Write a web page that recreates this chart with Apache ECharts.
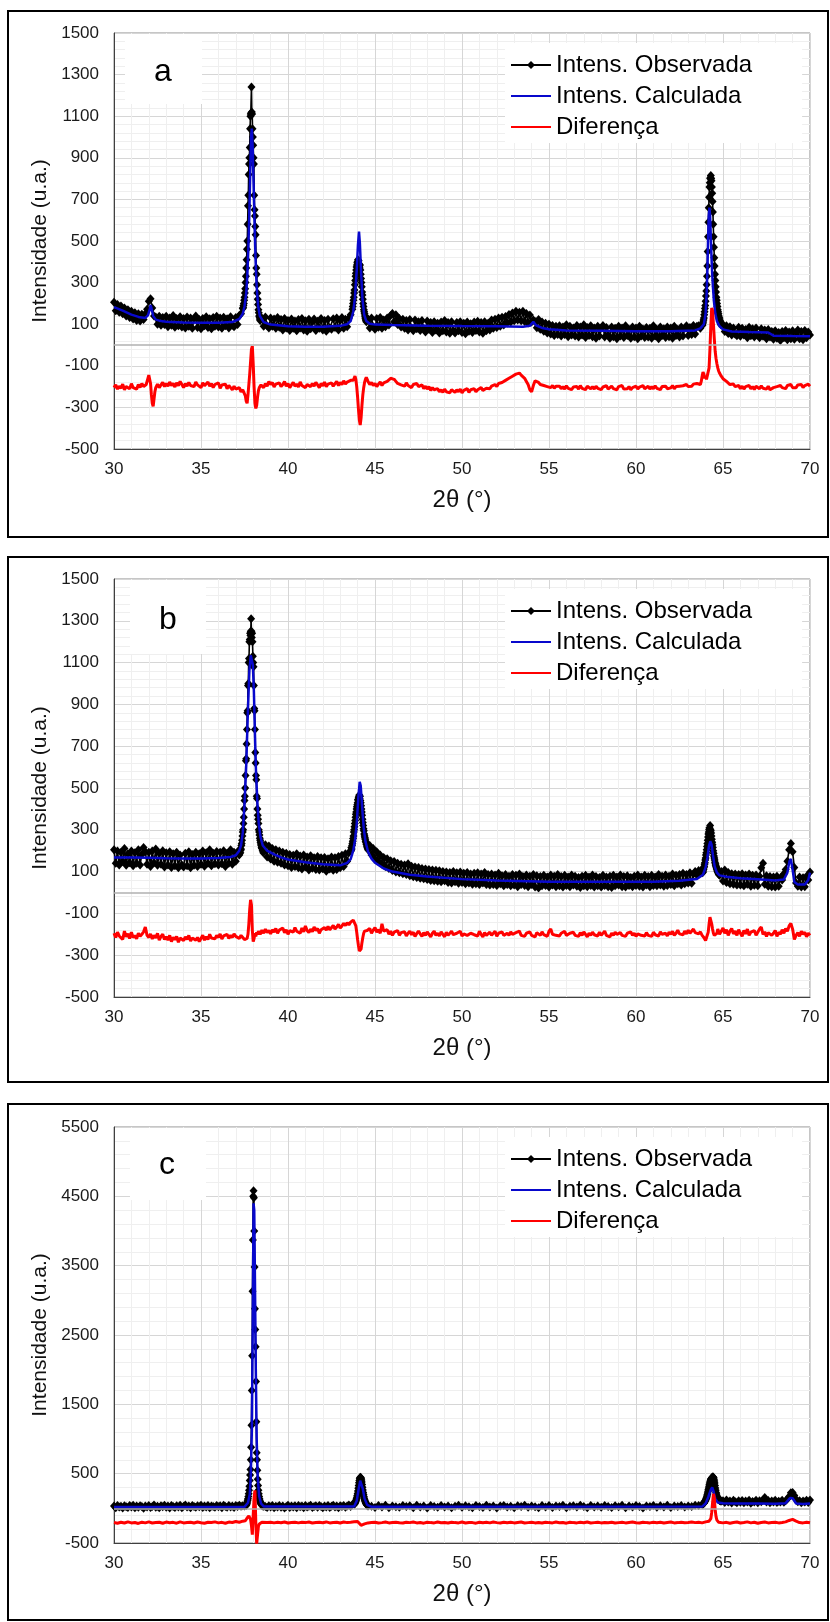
<!DOCTYPE html>
<html>
<head>
<meta charset="utf-8">
<script src="https://cdn.jsdelivr.net/npm/echarts@6/dist/echarts.min.js"></script>
<style>
  html, body { margin: 0; padding: 0; background: #fff; }
  #chart { width: 830px; height: 1622px; }
</style>
</head>
<body>
<div id="chart"></div>
<script>
// ── Legend names / panel letters ──
const NAMES = ['Intens. Observada', 'Intens. Calculada', 'Diferença'];
const LETTERS = ['a', 'b', 'c'];
const Y_RANGES = [[-500, 1500, 200], [-500, 1500, 200], [-500, 5500, 1000]];

// Observed data is stored as segments: [start 2θ, step, intensities]
// background every 0.1°, peak windows every 0.02°

// ── Panel a: observed ──
const obsA_bg1 = [205,165,195,158,188,150,178,140,170,132,162,125,155,118,150,115,148,122,150,172,210,222,178,140,135,100,138,95,132,98,138,88,130,95,142,85,128,92,136,86,128,82,135,90,130,80,125,140,84,122,78,128,92,136,84,126,78,132,90,138,86,130,80,134,92,126,82,136,95,88,132,98,142,150,175];
const obsA_pk1 = [180,190,200,215,230,250,270,300,330,370,410,460,500,580,670,720,820,870,900,950,1040,1100,1110,1115,1240,1120,1110,1040,1000,960,900,870,720,650,620,570,530,430,370,340,290,250,220,195,170,155,140,135,125,118];
const obsA_bg2 = [130,90,135,92,82,130,90,125,80,132,85,122,72,128,82,118,70,125,80,115,68,122,82,128,72,116,66,124,78,112,125,70,114,80,128,72,118,66,124,82,76,126,84,130,72,118,132,80,124,88,130,145,172];
const obsA_pk2 = [185,200,215,230,250,265,290,310,330,345,360,375,385,395,400,410,395,405,390,380,370,385,360,340,320,300,280,255,240,220,200,185,170,160,150,140,130,125,118,112];
const obsA_bg3 = [125,82,130,88,76,128,85,132,80,120,88,130,96,142,152,112,145,98,128,86,124,80,118,72,122,82,68,120,78,112,70,118,78,62,115,76,108,60,112,72,105,58,110,68,118,62,108,56,112,70,58,108,68,112,60,104,54,110,66,102,60,110,70,114,62,108,56,112,68,104,72,120,80,124,84,130,90,134,96,137,106,147,110,154,116,162,120,157,116,162,113,152,106,144,110,120,113,83,122,76,110,66,104,58,100,53,94,46,90,50,92,43,87,50,97,40,90,48,82,43,94,38,87,48,97,36,84,46,92,40,82,33,90,43,80,94,38,84,48,33,87,40,80,30,90,43,82,36,92,46,74,33,87,40,82,30,90,43,77,36,84,38,80,33,92,43,74,30,87,46,78,36,87,40,82,33,90,46,74,38,87,43,80,92,46,84,50,94,53,90,92,80,100];
const obsA_pk3 = [95,105,110,120,130,145,160,175,190,210,235,260,290,330,380,450,520,590,660,710,760,780,800,805,815,800,790,760,730,690,640,580,520,470,420,380,340,310,280,255,230,215,200,185,170,160,150,140,132,125,118,112,105,100,96];
const obsA_bg4 = [98,65,92,55,88,48,82,52,45,85,42,80,48,75,35,85,45,78,38,82,48,35,78,42,72,30,75,38,65,28,68,32,60,22,65,35,70,25,62,30,68,28,60,72,30,65,25,70,35,62,48];
const obsA = [[30.0,0.1,obsA_bg1],[37.42,0.02,obsA_pk1],[38.5,0.1,obsA_bg2],[43.72,0.02,obsA_pk2],[44.6,0.1,obsA_bg3],[63.82,0.02,obsA_pk3],[65.0,0.1,obsA_bg4]];

// ── Panel a: calculated [2θ, I] ──
const calcA = [[30,182],[30.5,165],[31,146],[31.5,133],[31.8,130],[31.95,142],[32.05,170],[32.1,192],[32.15,178],[32.25,140],[32.4,122],[32.7,115],[33,112],[34,108],[35,107],[36,107],[36.8,110],[37.2,125],[37.4,150],[37.5,185],[37.6,250],[37.66,330],[37.72,460],[37.78,640],[37.84,870],[37.88,1000],[37.92,1040],[37.97,950],[38.02,780],[38.08,580],[38.14,400],[38.2,280],[38.28,190],[38.38,140],[38.6,110],[39,98],[40,90],[41,88],[42,88],[43,92],[43.4,100],[43.6,115],[43.75,160],[43.85,230],[43.95,360],[44.02,480],[44.08,545],[44.13,490],[44.2,350],[44.28,220],[44.38,145],[44.5,115],[44.7,102],[45,98],[46,96],[48,93],[50,91],[52,90],[53.5,88],[53.9,92],[54.1,112],[54.25,95],[54.6,82],[55,76],[56,70],[58,68],[60,66],[62,66],[63.4,70],[63.7,80],[63.9,100],[64.0,150],[64.06,250],[64.1,350],[64.14,500],[64.18,620],[64.22,660],[64.26,620],[64.3,520],[64.34,420],[64.38,340],[64.42,280],[64.48,210],[64.56,150],[64.65,115],[64.8,90],[65,75],[65.5,65],[66.5,62],[67.6,60],[67.9,45],[69,43],[70,42]];

// ── Panel a: difference (offset -200) ──
const diffA_bg1 = [-205,-192,-212,-198,-208,-188,-215,-200,-193,-210,-186,-205,-196,-212,-190,-204,-185,-200,-192];
const diffA_pk0 = [-190,-175,-160,-145,-140,-185,-240,-280,-295,-260,-225,-205,-200];
const diffA_bg2 = [-188,-205,-192,-180,-200,-185,-198,-178,-195,-185,-202,-182,-196,-175,-190,-205,-185,-198,-180,-195,-188,-200,-178,-192,-185,-205,-182,-196,-190,-178,-198,-185,-205,-190,-195,-182,-208,-192,-200,-188,-210,-195,-205,-215,-198,-212,-220,-205,-225,-215];
const diffA_pk1 = [-225,-230,-245,-270,-280,-240,-190,-140,-80,-20,-5,-90,-200,-280,-305,-290,-250,-220,-205,-198,-192];
const diffA_bg3 = [-192,-205,-185,-198,-175,-190,-180,-202,-188,-196,-182,-200,-190,-176,-198,-186,-205,-192,-180,-198,-188,-202,-178,-195,-186,-205,-190,-182,-200,-185,-198,-180,-192,-205,-185,-196,-178,-200,-188,-194,-182,-198,-186,-175,-195,-180,-190,-172,-188,-178,-185,-170,-178];
const diffA_pk2 = [-170,-160,-150,-165,-200,-250,-310,-360,-385,-350,-290,-240,-205,-180,-165,-155,-165];
const diffA_bg4 = [-175,-190,-180,-195,-185,-200,-188,-178,-195,-182,-190,-175,-168,-160,-152,-165,-175,-185,-178,-192,-185,-198,-182,-195,-188,-205,-190,-198,-185,-200,-205,-192,-210,-198,-212,-200,-218,-205,-215,-222,-210,-225,-215,-228,-212,-225,-218,-230,-215,-222,-228,-215,-225,-212,-230,-218,-225,-210,-228,-215,-222,-210,-225,-215,-220,-205,-218,-212,-208,-200,-210,-198,-205,-190,-200,-185,-192,-180,-185,-170,-175,-160,-165,-150,-155,-140,-148,-135,-145,-150,-160,-175,-190,-215,-225,-195,-172,-165,-180,-190,-185,-195,-188,-200,-192,-205,-195,-208,-198,-205,-198,-210,-200,-212,-196,-208,-200,-215,-202,-210,-200,-212,-195,-208,-202,-215,-198,-206,-210,-200,-212,-198,-208,-200,-215,-202,-210,-196,-212,-205,-198,-210,-202,-215,-200,-208,-195,-212,-204,-210,-200,-215,-205,-210,-198,-212,-202,-208,-195,-210,-205,-198,-212,-200,-210,-196,-208,-202,-215,-200,-208,-198,-210,-202,-206,-195,-210,-200,-205,-198,-205,-196,-202,-190,-200,-195,-198,-188,-196,-185,-180,-190];
const diffA_pk3 = [-175,-150,-130,-140,-160,-150,-165,-172,-160,-110,-20,90,178,165,100,30,-30,-65,-90,-110,-125,-135,-142,-150,-156,-162];
const diffA_bg5 = [-168,-175,-182,-190,-196,-188,-200,-205,-195,-210,-198,-212,-200,-206,-195,-210,-200,-214,-198,-205,-210,-196,-208,-200,-212,-198,-215,-220,-205,-212,-200,-208,-195,-205,-198,-210,-195,-202,-190,-205,-196,-205,-192,-200,-190,-205,-195,-200,-188,-198];
const diffA = [[30.0,0.1,diffA_bg1],[31.85,0.05,diffA_pk0],[32.5,0.1,diffA_bg2],[37.45,0.05,diffA_pk1],[38.5,0.1,diffA_bg3],[43.75,0.05,diffA_pk2],[44.6,0.1,diffA_bg4],[63.75,0.05,diffA_pk3],[65.1,0.1,diffA_bg5]];

// ── Panel b: observed ──
const obsB_bg1 = [205,140,198,132,192,150,210,130,185,142,198,128,190,140,205,132,182,215,195,135,192,125,198,142,208,130,188,135,200,122,190,132,195,120,185,128,192,118,180,132,122,188,128,195,118,182,130,192,125,186,135,198,126,190,140,205,128,188,138,196,132,192,138,200,125,188,140,205,135,192,150,195,180];
const obsB_pk1 = [185,200,190,210,205,225,235,250,270,290,300,330,360,400,440,460,500,560,630,640,710,780,860,870,990,1000,1100,1120,1200,1210,1240,1230,1250,1310,1250,1220,1240,1200,1130,1100,1080,990,880,870,780,670,620,560,540,460,450,400,370,350,330,300,290,275,260,250,240,232,225,215,210,220,200,205,190,198];
const obsB_bg2 = [228,170,222,160,210,150,205,145,198,140,192,132,188,128,182,120,178,125,185,118,175,112,180,122,170,108,176,116,166,110,172,108,166,114,168,102,162,112,170,106,166,110,172,118,178,125,185,150,190,200];
const obsB_pk2 = [200,215,208,225,235,245,258,270,290,300,315,330,345,360,375,385,400,410,420,430,445,440,455,460,466,450,460,440,430,415,400,385,370,350,335,320,305,295,280,270,262,255,245,240,232,228,220,215,210,205];
const obsB_bg3 = [225,180,210,160,195,148,180,135,168,125,162,115,152,105,148,98,140,94,135,90,132,86,138,80,126,75,122,72,120,68,115,66,112,62,110,58,108,56,106,54,104,52,100,56,98,48,96,46,100,52,94,44,98,48,92,42,96,46,88,40,92,42,95,38,88,46,96,38,86,36,88,38,84,34,92,42,80,32,86,38,78,32,86,36,82,28,88,38,76,34,84,28,78,38,86,26,80,22,76,32,82,34,74,26,84,36,78,28,86,32,76,26,82,34,74,28,84,36,78,30,72,24,78,32,82,28,74,34,84,26,76,32,72,26,82,34,74,28,78,24,82,32,74,36,84,28,76,26,80,34,72,28,78,34,84,30,74,26,82,36,76,28,82,34,74,32,86,36,78,30,84,34,78,38,88,32,82,42,86,36,92,42,86,46,95,44,88,100,84,105,95,110];
const obsB_pk3 = [95,105,98,110,118,125,135,142,155,165,180,190,205,220,235,250,265,280,290,300,310,305,320,300,295,285,270,255,240,228,215,200,188,175,165,155,145,138,130,124,118,112,108,102,98,95,90,88,85,82];
const obsB_bg4 = [100,55,108,48,96,42,90,40,88,36,86,36,90,32,84,40,88,30,82,35,84,32,78,118,140,40,80,30,76,28,74,26,78,30,70,60,90,110,150,205,235,195,120,45,30,74,26,70,28,78,60,98];
const obsB = [[30.0,0.1,obsB_bg1],[37.22,0.02,obsB_pk1],[38.7,0.1,obsB_bg2],[43.62,0.02,obsB_pk2],[44.7,0.1,obsB_bg3],[63.82,0.02,obsB_pk3],[64.9,0.1,obsB_bg4]];

// ── Panel b: calculated ──
const calcB = [[30,168],[31,167],[32,166],[33,164],[34,163],[35,163],[36,165],[36.7,170],[37.0,178],[37.2,200],[37.3,225],[37.4,285],[37.5,420],[37.6,610],[37.7,880],[37.78,1060],[37.86,1135],[37.92,1140],[37.98,1090],[38.04,960],[38.1,760],[38.16,580],[38.24,430],[38.32,330],[38.42,265],[38.55,225],[38.8,200],[39.2,182],[39.6,168],[40,158],[41,145],[42,135],[43,130],[43.4,142],[43.6,160],[43.75,200],[43.85,250],[43.95,330],[44.04,450],[44.12,530],[44.18,510],[44.26,410],[44.35,310],[44.45,245],[44.6,195],[44.8,162],[45,142],[45.5,115],[46,100],[47,85],[48,76],[50,64],[52,57],[55,52],[58,51],[61,52],[62.5,56],[63.5,65],[63.85,85],[64.0,120],[64.1,165],[64.2,225],[64.27,245],[64.34,230],[64.42,180],[64.52,125],[64.65,95],[64.8,82],[65.2,75],[66,68],[67,63],[68,58],[68.5,62],[68.7,95],[68.82,150],[68.9,160],[69.0,110],[69.1,50],[69.3,38],[69.7,38],[69.9,60],[70,95]];

// ── Panel b: difference ──
const diffB_bg1 = [-195,-215,-190,-208,-200,-225,-185,-212,-198,-220,-190,-215,-205,-222,-195,-210,-200,-188,-165,-205,-215,-198,-222,-205,-218,-195,-228,-210,-200,-225,-212,-228,-205,-235,-215,-225,-210,-238,-218,-222,-230,-212,-225,-205,-232,-218,-210,-228,-215,-235,-220,-205,-228,-212,-225,-200,-218,-210,-222,-205,-215,-198,-222,-208,-212,-200,-220,-205,-215,-198,-210,-202,-220,-205,-215,-225,-218];
const diffB_pk1 = [-220,-200,-150,-80,-35,-60,-180,-235,-220,-195,-210,-190,-200];
const diffB_bg2 = [-185,-200,-180,-195,-175,-192,-182,-198,-178,-190,-172,-195,-180,-188,-170,-192,-178,-200,-182,-175,-190,-168,-185,-178,-195,-170,-188,-160,-182,-192,-175,-188,-165,-182,-172,-195,-178,-185,-168,-180,-162,-178,-170,-158,-175,-165,-152,-170,-160,-148,-158,-145,-155,-142];
const diffB_pk2 = [-150,-140,-132,-128,-140,-160,-190,-225,-255,-280,-288,-270,-240,-215,-195,-185,-178,-190,-182];
const diffB_bg3 = [-185,-172,-195,-180,-168,-190,-178,-195,-150,-185,-192,-178,-200,-185,-205,-190,-198,-182,-205,-192,-200,-188,-208,-195,-185,-202,-190,-210,-196,-185,-198,-210,-192,-205,-188,-200,-212,-195,-185,-205,-195,-208,-188,-200,-212,-190,-205,-196,-185,-202,-210,-195,-200,-185,-208,-198,-190,-205,-212,-195,-188,-202,-195,-208,-185,-200,-212,-192,-205,-198,-190,-205,-198,-185,-210,-195,-202,-188,-205,-212,-195,-205,-188,-200,-208,-192,-198,-185,-205,-196,-210,-195,-202,-188,-205,-198,-212,-192,-200,-205,-188,-202,-196,-210,-185,-175,-200,-192,-205,-198,-208,-195,-200,-186,-205,-212,-195,-202,-190,-205,-198,-210,-192,-205,-188,-200,-212,-195,-205,-190,-202,-195,-208,-190,-205,-198,-185,-205,-200,-212,-195,-205,-190,-200,-208,-192,-205,-198,-210,-195,-200,-188,-205,-195,-210,-198,-190,-205,-196,-208,-192,-205,-198,-210,-190,-202,-195,-208,-188,-200,-205,-195,-208,-190,-200,-186,-205,-195,-180,-198,-190,-202,-185,-198,-180,-195,-188,-175,-192,-185,-198,-188,-205,-215];
const diffB_pk3 = [-220,-230,-235,-225,-190,-150,-118,-125,-150,-175,-195,-205,-212,-200,-195];
const diffB_bg4 = [-175,-200,-185,-170,-195,-178,-205,-185,-172,-198,-185,-205,-178,-195,-210,-182,-198,-175,-205,-190,-198,-182,-205,-190,-175,-165,-200,-188,-210,-192,-185,-205,-195,-182,-210,-190,-200,-178,-195,-172,-185,-160,-148,-175,-225,-205,-192,-210,-185,-200,-190,-212,-195,-205];
const diffB = [[30.0,0.1,diffB_bg1],[37.65,0.05,diffB_pk1],[38.3,0.1,diffB_bg2],[43.65,0.05,diffB_pk2],[44.6,0.1,diffB_bg3],[63.95,0.05,diffB_pk3],[64.7,0.1,diffB_bg4]];

// ── Panel c: observed ──
const obsC_bg1 = [35,10,42,18,30,5,38,22,12,40,20,45,8,32,15,38,25,2,35,18,42,12,28,48,15,30,8,38,22,45,15,35,5,40,25,12,38,20,45,10,30,48,18,35,8,42,25,15,38,22,45,12,32,20,40,8,35,25,15,42,22,38,10,45,28,15,40,20,35,12,40,25,45,30,38,35];
const obsC_pk1 = [40,55,70,90,115,140,170,210,260,320,400,480,560,700,880,1200,1700,2200,3130,3870,4500,4580,4480,4000,3480,2880,2580,2330,1830,1250,800,700,550,420,330,260,210,170,140,115,95,80,70,60,52,45,40,38,35,42,30];
const obsC_bg2 = [28,12,38,20,42,8,30,18,40,15,35,5,28,45,12,32,20,38,10,42,22,35,8,40,18,30,45,12,28,38,15,42,25,8,35,20,40,12,30,45,18,32,10,38,25,42,15,35,48,28,55,70];
const obsC_pk2 = [60,70,80,92,105,120,138,160,185,215,250,290,330,370,400,425,440,450,445,430,410,380,345,305,265,230,200,170,145,125,108,95,82,72,62,55,48,42,38,35];
const obsC_bg3 = [30,12,40,20,45,8,35,22,15,42,25,38,10,45,18,32,5,40,28,15,42,20,35,8,30,45,15,38,22,10,40,28,12,45,20,35,5,32,42,18,30,10,38,25,45,15,35,22,8,40,20,42,12,35,28,45,10,30,38,18,45,25,8,40,20,35,15,42,28,12,38,22,45,10,32,18,40,25,5,35,28,42,15,38,20,45,12,32,25,40,18,35,28,45,40,55];
const obsC_pk3 = [60,65,70,75,82,90,98,108,120,132,145,160,178,198,220,245,270,295,320,345,365,385,400,415,425,432,440,445,450,455,448,440,420,395,365,330,295,260,230,205,185,168,155,145,138,130,125,120,116,112,110,108,106,105];
const obsC_bg4 = [110,85,120,90,105,78,115,95,82,110,88,112,80,105,92,118,75,100,90,115,82,108,95,120,155,90,112,80,105,92,115,85,102,92,118,88,110,135,170,225,230,185,130,95,110,80,105,92,115,85,120];
const obsC = [[30.0,0.1,obsC_bg1],[37.6,0.02,obsC_pk1],[38.7,0.1,obsC_bg2],[43.82,0.02,obsC_pk2],[44.8,0.2,obsC_bg3],[63.84,0.02,obsC_pk3],[65.0,0.1,obsC_bg4]];

// ── Panel c: calculated ──
const calcC = [[30,20],[37.5,22],[37.7,80],[37.8,200],[37.86,450],[37.92,1100],[37.97,2500],[38.02,4400],[38.06,4300],[38.1,3300],[38.15,2000],[38.2,1000],[38.26,450],[38.34,180],[38.45,70],[38.6,28],[43.8,25],[43.95,110],[44.05,260],[44.15,400],[44.22,395],[44.3,280],[44.4,140],[44.55,50],[44.8,22],[63.8,25],[64.0,70],[64.15,160],[64.3,270],[64.38,300],[64.45,250],[64.55,140],[64.7,85],[65,72],[66,70],[67,68],[68,66],[68.6,75],[68.85,150],[69.0,145],[69.2,70],[69.6,62],[70,70]];

// ── Panel c: difference ──
const diffC_bg1 = [-205,-215,-200,-212,-195,-210,-205,-218,-200,-210,-196,-212,-205,-200,-215,-198,-208,-202,-214,-196,-210,-205,-200,-212,-198,-208,-215,-200,-205,-195,-210,-202,-215,-198,-205,-190,-200,-185];
const diffC_pk1 = [-190,-175,-180,-160,-140,-120,-110,-130,-160,-250,-380,-100,150,260,-200,-510,-380,-260,-225,-210,-205,-200];
const diffC_bg2 = [-198,-205,-200,-210,-202,-208,-198,-212,-204,-200,-210,-202,-206,-198,-212,-204,-200,-208,-196,-210,-204,-200,-212,-198,-206,-202,-195,-190,-245,-225,-210,-205,-200,-212,-206,-198,-210,-204,-200,-208,-212,-200,-206,-198,-210,-204,-214,-200,-206,-210,-198,-208,-204,-212,-200,-206,-210,-198,-212,-204,-206,-214,-200,-208,-202,-210,-198,-206,-212,-200,-208,-202,-210,-204,-198,-212,-206,-200,-210,-204,-212,-200,-206,-210,-198,-208,-204,-214,-200,-206,-210,-202,-208,-198,-212,-206,-200,-210,-204,-208,-202,-212,-206,-200,-210,-204,-198,-208,-212,-200,-206,-210,-202,-208,-200,-212,-204,-198,-210,-206,-200,-208,-204,-198,-206,-200,-210,-195,-185];
const diffC_pk2 = [-180,-150,-60,80,210,150,-20,-120,-170,-190,-200,-205,-208];
const diffC_bg3 = [-210,-202,-215,-205,-198,-212,-204,-195,-210,-200,-215,-205,-198,-210,-204,-200,-210,-204,-195,-175,-160,-185,-205,-210,-200,-208];
const diffC = [[30.0,0.2,diffC_bg1],[37.45,0.05,diffC_pk1],[38.6,0.2,diffC_bg2],[64.25,0.05,diffC_pk2],[65.0,0.2,diffC_bg3]];

// ── Build [x, y] points from segments ──
function expand(segs) {
  const out = [];
  segs.forEach(([start, step, vals]) => {
    vals.forEach((v, i) => out.push([+(start + i * step).toFixed(2), v]));
  });
  return out.sort((a, b) => a[0] - b[0]);
}

const FONT = "'Liberation Sans', Arial, Helvetica, sans-serif";
const panels = [
  { obs: obsA, calc: calcA, diff: diffA, box: [8, 11, 820, 526], top: 33, height: 416, tag: [125, 77, 70, 163, 72] },
  { obs: obsB, calc: calcB, diff: diffB, box: [8, 557, 820, 525], top: 579, height: 418, tag: [130, 76, 74, 168, 620] },
  { obs: obsC, calc: calcC, diff: diffC, box: [8, 1104, 820, 516], top: 1127, height: 416, tag: [130, 76, 72, 167, 1165] },
];

const grid = [], xAxis = [], yAxis = [], series = [], legend = [], graphic = [];

panels.forEach((p, i) => {
  const [yMin, yMax, yStep] = Y_RANGES[i];
  grid.push({ left: 114, top: p.top, width: 696, height: p.height, show: true,
              borderColor: '#8c8c8c', borderWidth: 1, backgroundColor: 'transparent' });
  xAxis.push({
    type: 'value', gridIndex: i, min: 30, max: 70, interval: 5,
    axisLine: { onZero: false, lineStyle: { color: '#404040', width: 1 } },
    axisTick: { show: false },
    axisLabel: { color: '#1a1a1a', fontSize: 17, fontFamily: FONT, margin: 12 },
    splitLine: { lineStyle: { color: '#d6d6d6', width: 1 } },
    minorTick: { show: false, splitNumber: 5 },
    minorSplitLine: { show: true, lineStyle: { color: '#efefef', width: 1 } },
    name: '2θ (°)', nameLocation: 'middle', nameGap: 39,
    nameTextStyle: { fontSize: 24, color: '#111', fontFamily: FONT },
  });
  yAxis.push({
    type: 'value', gridIndex: i, min: yMin, max: yMax, interval: yStep,
    axisLine: { show: true, lineStyle: { color: '#404040', width: 1 } },
    axisTick: { show: false },
    axisLabel: { color: '#1a1a1a', fontSize: 17, fontFamily: FONT, margin: 15, formatter: v => String(v) },
    splitLine: { lineStyle: { color: '#d6d6d6', width: 1 } },
    minorTick: { show: false, splitNumber: 5 },
    minorSplitLine: { show: true, lineStyle: { color: '#efefef', width: 1 } },
    name: 'Intensidade (u.a.)', nameLocation: 'middle', nameGap: 63,
    nameTextStyle: { fontSize: 21, color: '#111', fontFamily: FONT },
  });

  // zero line (Excel horizontal axis crossing)
  series.push({
    name: 'zero' + i, type: 'line', xAxisIndex: i, yAxisIndex: i, data: [], z: 1,
    markLine: { silent: true, symbol: 'none', label: { show: false }, animation: false,
                lineStyle: { color: '#b0b0b0', width: 1.5, type: 'solid' }, data: [{ yAxis: 0 }] },
  });
  series.push({
    name: NAMES[0], type: 'line', xAxisIndex: i, yAxisIndex: i, data: expand(p.obs),
    symbol: 'diamond', symbolSize: [8, 9], showSymbol: true,
    itemStyle: { color: '#000', borderWidth: 0 }, lineStyle: { color: '#000', width: 1.6 }, z: 2,
  });
  series.push({
    name: NAMES[1], type: 'line', xAxisIndex: i, yAxisIndex: i, data: p.calc, symbol: 'none',
    itemStyle: { color: '#0808cc' }, lineStyle: { color: '#0808cc', width: 2.5 }, z: 3,
  });
  series.push({
    name: NAMES[2], type: 'line', xAxisIndex: i, yAxisIndex: i, data: expand(p.diff), symbol: 'none',
    itemStyle: { color: '#ff0000' }, lineStyle: { color: '#ff0000', width: 3 }, z: 4,
  });

  legend.push({
    data: [NAMES[0], { name: NAMES[1], itemStyle: { opacity: 0 } }, { name: NAMES[2], itemStyle: { opacity: 0 } }],
    orient: 'vertical', left: 505, top: p.top + 10,
    padding: [10, 50, 4, 5], itemGap: 7, itemWidth: 40, itemHeight: 10,
    backgroundColor: '#fff', selectedMode: false,
    textStyle: { fontSize: 24, lineHeight: 24, color: '#000', fontFamily: FONT },
  });

  const [bx, bw, bh, tx, ty] = p.tag;
  graphic.push({ type: 'rect', silent: true, z: 5, shape: { x: bx, y: p.top + 1, width: bw, height: bh }, style: { fill: '#fff' } });
  graphic.push({ type: 'text', silent: true, z: 6, x: tx, y: ty,
                 style: { text: LETTERS[i], fontSize: 32, fontFamily: FONT, fill: '#000',
                          textAlign: 'center', textVerticalAlign: 'middle', align: 'center', verticalAlign: 'middle' } });
  graphic.push({ type: 'rect', silent: true, z: 10,
                 shape: { x: p.box[0], y: p.box[1], width: p.box[2], height: p.box[3] },
                 style: { fill: 'none', stroke: '#000', lineWidth: 2 } });
});

const chart = echarts.init(document.getElementById('chart'));
chart.setOption({
  animation: false,
  backgroundColor: '#fff',
  grid, xAxis, yAxis, series, legend, graphic,
});
</script>
</body>
</html>
